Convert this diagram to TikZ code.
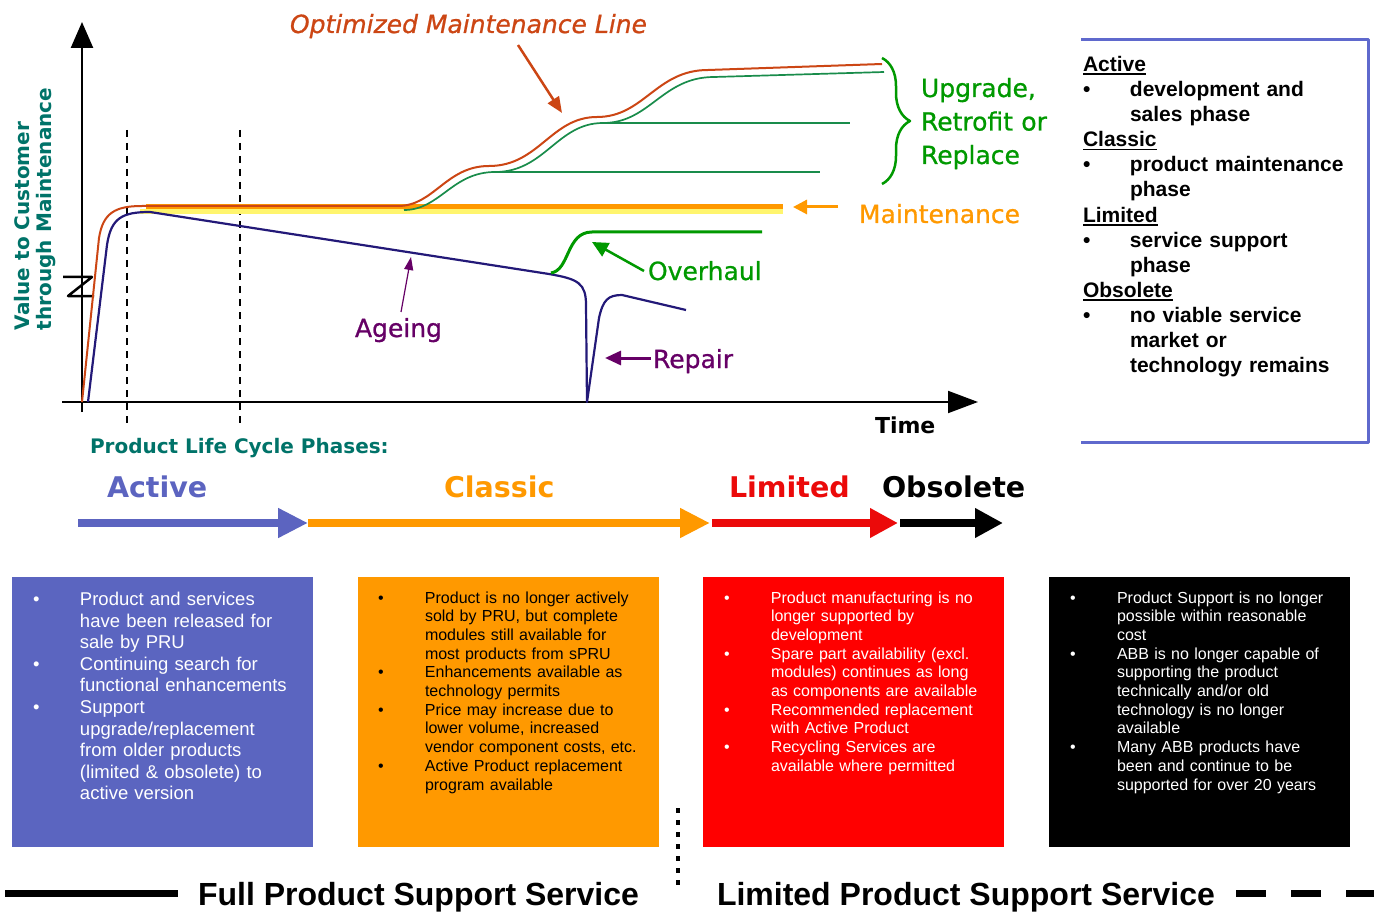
\documentclass[tikz,border=0pt]{standalone}
\usepackage{fontspec}
\setmainfont{Liberation Sans}
\newfontfamily\dv{DejaVu Sans}
\newfontfamily\dvfb[FakeBold=0.8]{DejaVu Sans}
\usetikzlibrary{arrows.meta,decorations.pathreplacing}
\definecolor{teal2}{RGB}{0,115,105}
\definecolor{ugreen}{RGB}{0,153,0}
\definecolor{lgreen}{RGB}{25,140,75}
\definecolor{morange}{RGB}{255,153,0}
\definecolor{myellow}{RGB}{255,245,110}
\definecolor{optred}{RGB}{204,70,20}
\definecolor{navy}{RGB}{35,25,120}
\definecolor{purp}{RGB}{102,0,102}
\definecolor{pblue}{RGB}{92,100,192}
\definecolor{pred}{RGB}{235,10,10}
\definecolor{legblue}{RGB}{95,105,205}
\definecolor{boxblue}{RGB}{91,101,192}
\definecolor{boxred}{RGB}{255,0,0}
\newcommand\bitem[1]{\hangindent=47pt\hangafter=1\noindent\makebox[47pt][l]{\textbullet}#1\par}
\newcommand\uline[1]{\leavevmode\setbox0\hbox{#1}\rlap{\rule[-3.6pt]{\wd0}{1.8pt}}\box0\par}
\begin{document}
\begin{tikzpicture}[x=1pt,y=-1pt,line join=round,
  lbl/.style={inner sep=0pt,outer sep=0pt},
  chart/.style={lbl,anchor=base west,font=\dvfb\fontsize{25}{33.5}\selectfont},
  phase/.style={lbl,anchor=base west,font=\dv\bfseries\fontsize{28.5}{32}\selectfont},
  boxs/.style={lbl,anchor=north west,minimum width=301pt,minimum height=270pt},
  boxt/.style={lbl,anchor=base west,text width=290pt},
  small/.style={font=\fontsize{16}{18.7}\selectfont},
  big/.style={font=\fontsize{18.5}{21.6}\selectfont},
  upg/.style={lgreen,line width=1.7pt},
  annot/.style={line width=2.5pt},
  parrow/.style={line width=8pt}]
\fill[white] (0,0) rectangle (1374,912);
\useasboundingbox (0,0) rectangle (1374,912);

% axes
\draw[line width=2.5pt,-{Triangle[length=26pt,width=22pt]}] (82,412) -- (82,22);
\draw[line width=2pt,-{Triangle[length=30pt,width=22pt]}] (62,402) -- (978,402);
\draw[line width=2.5pt] (63,277) -- (92,277) -- (68,296) -- (94,296);
\draw[line width=2.5pt,dash pattern=on 7pt off 6pt] (127,130) -- (127,428);
\draw[line width=2.5pt,dash pattern=on 7pt off 6pt] (240,130) -- (240,428);

% maintenance band
\draw[myellow,line width=4.5pt] (140,211.5) -- (783,211.5);
\draw[morange,line width=4.5pt] (146,206.5) -- (783,206.5);

% upgrade lines
\draw[upg] (404,210) .. controls (440,210) and (452,172) .. (495,172) .. controls (545,172) and (557,123) .. (603,123) .. controls (650,123) and (662,77) .. (714,77) -- (884,72);
\draw[upg] (495,172) -- (820,172);
\draw[upg] (603,123) -- (850,123);

% optimized line
\draw[optred,line width=2pt] (82,402) -- (99,238) .. controls (103,213) and (115,206) .. (142,206) -- (398,206) .. controls (434,206) and (446,166) .. (489,166) .. controls (539,166) and (551,117) .. (597,117) .. controls (644,117) and (656,70) .. (708,70) -- (882,64);

% ageing curve
\draw[navy,line width=2.2pt] (88,402) -- (107,245) .. controls (111,218) and (122,212) .. (150,212) -- (549,274) .. controls (578,279) and (586,283) .. (586,305) -- (587,402) -- (599,318) .. controls (603,300) and (608,295) .. (622,295) -- (686,310);

% overhaul
\draw[ugreen,line width=3pt] (551,273) .. controls (570,270) and (566,232) .. (592,232) -- (762,232);

% labels
\node[chart,font=\dvfb\fontsize{25}{30}\selectfont\itshape,text=optred] (optT) at (290,33) {Optimized Maintenance Line};
\coordinate (optA) at (518,45);
\coordinate (optB) at (562,113);
\draw[optred,annot,-{Triangle[length=16pt,width=13pt]}] (optA) -- (optB);

\node[chart,text=ugreen,text width=200pt] (upT) at (921,97) {Upgrade,\newline Retrofit or\newline Replace};
\draw[ugreen,line width=2.5pt,decorate,decoration={brace,amplitude=28pt}] (882,58) -- (882,184);

\node[chart,text=morange] (mT) at (859,223) {Maintenance};
\coordinate (mA) at (838,207);
\coordinate (mB) at (793,207);
\draw[morange,line width=3pt,-{Triangle[length=14pt,width=14pt]}] (mA) -- (mB);

\node[chart,text=ugreen] (oT) at (648,280) {Overhaul};
\coordinate (oA) at (644,271);
\coordinate (oB) at (592,242);
\draw[ugreen,line width=2.5pt,-{Triangle[length=16pt,width=15pt]}] (oA) -- (oB);

\node[chart,text=purp] (aT) at (355,337) {Ageing};
\coordinate (aA) at (401,312);
\coordinate (aB) at (411,257);
\draw[purp,line width=1.2pt,-{Triangle[length=13pt,width=9pt]}] (aA) -- (aB);

\node[chart,text=purp] (rT) at (653,368) {Repair};
\coordinate (rA) at (651,358);
\coordinate (rB) at (605,358);
\draw[purp,line width=3pt,-{Triangle[length=16pt,width=14pt]}] (rA) -- (rB);

\node[lbl,anchor=base west,font=\dv\bfseries\fontsize{22}{26}\selectfont] (timeT) at (875,433) {Time};

% y label
\node[lbl,rotate=90,anchor=base west,text=teal2,font=\dv\bfseries\fontsize{20}{24}\selectfont] (yl1) at (29,330) {Value to Customer};
\node[lbl,rotate=90,anchor=base west,text=teal2,font=\dv\bfseries\fontsize{20}{24}\selectfont] (yl2) at (51,330) {through Maintenance};

% phases
\node[lbl,anchor=base west,text=teal2,font=\dv\bfseries\fontsize{20}{24}\selectfont] (plc) at (90,453) {Product Life Cycle Phases:};
\node[phase,text=pblue] (phA) at (107,497) {Active};
\node[phase,text=morange] (phC) at (444,497) {Classic};
\node[phase,text=pred] (phL) at (729,497) {Limited};
\node[phase] (phO) at (882,497) {Obsolete};

\coordinate (p0) at (78,523);
\coordinate (p1) at (308,523);
\coordinate (p2) at (710,523);
\coordinate (p3) at (712,523);
\coordinate (p4) at (898,523);
\coordinate (p5) at (900,523);
\coordinate (p6) at (1003,523);
\draw[parrow,pblue,-{Triangle[length=30pt,width=28pt]}] (p0) -- (p1);
\draw[parrow,morange,-{Triangle[length=30pt,width=28pt]}] (p1) -- (p2);
\draw[parrow,pred,-{Triangle[length=28pt,width=28pt]}] (p3) -- (p4);
\draw[parrow,black,-{Triangle[length=28pt,width=28pt]}] (p5) -- (p6);

% legend
\draw[legblue,line width=3pt] (1081,40) -- (1368,40) -- (1368,442) -- (1081,442);
\node[boxt,text width=280pt,font=\bfseries\fontsize{21}{25.1}\selectfont] (leg) at (1083,71.5) {\raggedright
\uline{Active}
\bitem{development and\newline sales phase}
\uline{Classic}
\bitem{product maintenance\newline phase}
\uline{Limited}
\bitem{service support\newline phase}
\uline{Obsolete}
\bitem{no viable service\newline market or\newline technology remains}};

% boxes
\node[boxs,fill=boxblue] (bA) at (12,577) {};
\node[boxs,fill=morange] (bC) at (358,577) {};
\node[boxs,fill=boxred] (bL) at (703,577) {};
\node[boxs,fill=black] (bO) at (1049,577) {};

\node[boxt,big,text=white] (tA) at (33,605.5) {\raggedright
\bitem{Product and services\newline have been released for\newline sale by PRU}
\bitem{Continuing search for\newline functional enhancements}
\bitem{Support\newline upgrade/replacement\newline from older products\newline (limited \& obsolete) to\newline active version}};

\node[boxt,small,text=black] (tC) at (378,603) {\raggedright
\bitem{Product is no longer actively\newline sold by PRU, but complete\newline modules still available for\newline most products from sPRU}
\bitem{Enhancements available as\newline technology permits}
\bitem{Price may increase due to\newline lower volume, increased\newline vendor component costs, etc.}
\bitem{Active Product replacement\newline program available}};

\node[boxt,small,text=white] (tL) at (724,603) {\raggedright
\bitem{Product manufacturing is no\newline longer supported by\newline development}
\bitem{Spare part availability (excl.\newline modules) continues as long\newline as components are available}
\bitem{Recommended replacement\newline with Active Product}
\bitem{Recycling Services are\newline available where permitted}};

\node[boxt,small,text=white] (tO) at (1070,603) {\raggedright
\bitem{Product Support is no longer\newline possible within reasonable\newline cost}
\bitem{ABB is no longer capable of\newline supporting the product\newline technically and/or old\newline technology is no longer\newline available}
\bitem{Many ABB products have\newline been and continue to be\newline supported for over 20 years}};

% bottom
\draw[line width=4pt,dash pattern=on 5pt off 7pt] (678,808) -- (678,886);
\coordinate (s0) at (5,893);
\coordinate (s1) at (178,893);
\draw[line width=7pt] (s0) -- (s1);
\node[lbl,anchor=base west,font=\bfseries\fontsize{32}{36}\selectfont] (fullT) at (198,905) {Full Product Support Service};
\node[lbl,anchor=base west,font=\bfseries\fontsize{32}{36}\selectfont] (limT) at (717,905) {Limited Product Support Service};
\coordinate (d0) at (1236,893);
\coordinate (d1) at (1374,893);
\draw[line width=7pt,dash pattern=on 30pt off 25pt] (d0) -- (d1);
\end{tikzpicture}
\end{document}
